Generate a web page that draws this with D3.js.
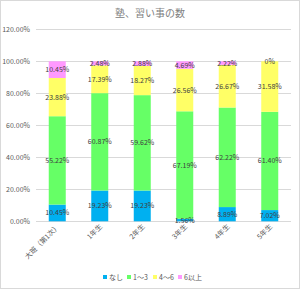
<!DOCTYPE html>
<html><head><meta charset="utf-8">
<script src="https://cdn.jsdelivr.net/npm/d3@7"></script>
<style>body{margin:0;background:#fff}svg{display:block}</style>
</head><body>
<script>
const categories = ["大班（第1次）","1年生","2年生","3年生","4年生","5年生"];
const seriesNames = ["なし","1〜3","4〜6","6以上"];
const seriesNone = [10.45,19.23,19.23,1.56,8.89,7.02];
const series1to3 = [55.22,60.87,59.62,67.19,62.22,61.40];
const series4to6 = [23.88,17.39,18.27,26.56,26.67,31.58];
const series6plus = [10.45,2.48,2.88,4.69,2.22,0];
const yTicks = [0,20,40,60,80,100,120];
const colors = ["#00b0f0","#66ff66","#ffff66","#ff99ff"];

const W=300,H=289;
const svg=d3.select("body").append("svg").attr("width",W).attr("height",H);
svg.append("rect").attr("x",0.5).attr("y",0.5).attr("width",W-1).attr("height",H-1).attr("fill","#fff").attr("stroke","#d9d9d9");
const font="'Noto Sans CJK JP', sans-serif";
svg.append("text").attr("x",150).attr("y",17).attr("text-anchor","middle").attr("font-family",font).attr("font-size",10).attr("fill","#808080").text("塾、習い事の数");

const x=d3.scaleBand().domain(categories).range([36,291]).paddingInner(0.6).paddingOuter(0.3);
const y=d3.scaleLinear().domain([0,120]).range([221.3,29.3]);

const g=svg.append("g");
g.selectAll("line.grid").data(yTicks).enter().append("line")
 .attr("x1",36).attr("x2",291).attr("y1",d=>Math.round(y(d))+0.5).attr("y2",d=>Math.round(y(d))+0.5)
 .attr("stroke","#d9d9d9").attr("stroke-width",1);
g.selectAll("text.yt").data(yTicks).enter().append("text")
 .attr("x",30).attr("y",d=>y(d)+2.5).attr("text-anchor","end").attr("font-family",font).attr("font-size",7).attr("fill","#595959")
 .text(d=>d.toFixed(2)+"%");

const all=[seriesNone,series1to3,series4to6,series6plus];
const rows=categories.map((c,i)=>{const o={cat:c};seriesNames.forEach((s,j)=>o[s]=all[j][i]);return o;});
const stack=d3.stack().keys(seriesNames)(rows);
stack.forEach((layer,j)=>{
  const lg=g.append("g");
  lg.selectAll("rect").data(layer).enter().append("rect")
   .attr("x",d=>x(d.data.cat)).attr("width",x.bandwidth())
   .attr("y",d=>y(d[1])).attr("height",d=>Math.max(0,y(d[0])-y(d[1])))
   .attr("fill",colors[j]);
});
stack.forEach((layer,j)=>{
  g.append("g").selectAll("text").data(layer).enter().append("text")
   .attr("x",d=>x(d.data.cat)+x.bandwidth()/2)
   .attr("y",d=>(y(d[0])+y(d[1]))/2+2.5)
   .attr("text-anchor","middle").attr("font-family",font).attr("font-size",7).attr("fill","#404040")
   .text(d=>{const v=d.data[seriesNames[j]];return v===0?"0%":v.toFixed(2)+"%";});
});

categories.forEach(c=>{
  const cx=x(c)+x.bandwidth()/2+3;
  svg.append("text").attr("transform",`translate(${cx},227) rotate(-45)`)
   .attr("text-anchor","end").attr("font-family",font).attr("font-size",7).attr("fill","#595959").text(c);
});

const legX=[103,127,153,178];
seriesNames.forEach((s,j)=>{
  svg.append("rect").attr("x",legX[j]).attr("y",275).attr("width",4).attr("height",4).attr("fill",colors[j]);
  svg.append("text").attr("x",legX[j]+6).attr("y",279.5).attr("font-family",font).attr("font-size",7).attr("fill","#595959").text(s);
});
</script>
</body></html>
